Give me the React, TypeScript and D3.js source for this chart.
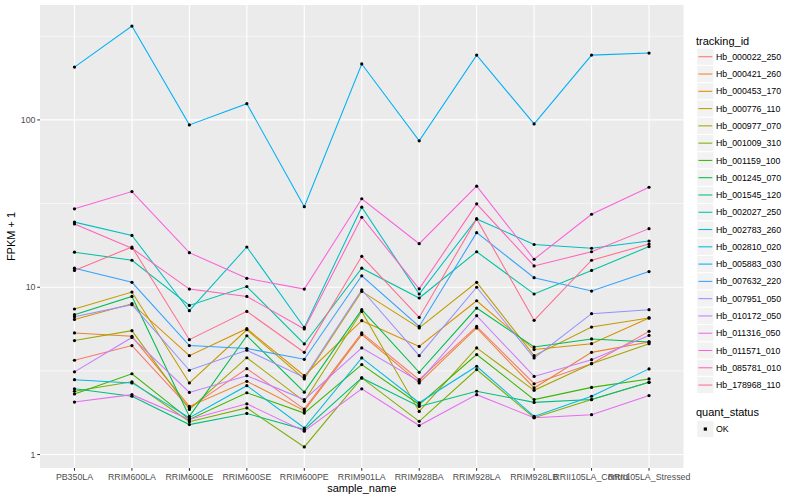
import React from 'react';
import * as d3 from 'd3';

// samples on the x axis
const samples = [
  'PB350LA', 'RRIM600LA', 'RRIM600LE', 'RRIM600SE', 'RRIM600PE', 'RRIM901LA',
  'RRIM928BA', 'RRIM928LA', 'RRIM928LB', 'RRII105LA_Control', 'RRII105LA_Stressed'
];

const trackingIds = [
  'Hb_000022_250', 'Hb_000421_260', 'Hb_000453_170', 'Hb_000776_110', 'Hb_000977_070',
  'Hb_001009_310', 'Hb_001159_100', 'Hb_001245_070', 'Hb_001545_120', 'Hb_002027_250',
  'Hb_002783_260', 'Hb_002810_020', 'Hb_005883_030', 'Hb_007632_220', 'Hb_007951_050',
  'Hb_010172_050', 'Hb_011316_050', 'Hb_011571_010', 'Hb_085781_010', 'Hb_178968_110'
];

// ggplot hue palette for 20 levels
const hueColors = [
  '#F8766D', '#EA8331', '#D89000', '#C09B00', '#A3A500', '#7CAE00', '#39B600',
  '#00BB4E', '#00BF7D', '#00C1A3', '#00BFC4', '#00BAE0', '#00B0F6', '#35A2FF',
  '#9590FF', '#C77CFF', '#E76BF3', '#FA62DB', '#FF62BC', '#FF6C91'
];

// FPKM + 1, one row per tracking id, one value per sample
const fpkm: number[][] = [
  [3.66, 4.48, 1.90, 3.26, 1.87, 5.33, 2.80, 5.83, 2.65, 3.49, 5.45],
  [5.33, 5.09, 1.94, 2.74, 1.83, 5.21, 2.68, 5.71, 2.50, 4.08, 4.71],
  [6.42, 7.97, 3.90, 5.65, 2.96, 6.31, 4.43, 8.30, 4.24, 4.60, 6.55],
  [7.41, 9.36, 2.68, 5.57, 2.83, 9.44, 5.71, 10.7, 3.90, 5.78, 6.55],
  [4.80, 5.50, 1.86, 3.79, 2.08, 7.17, 1.81, 4.34, 2.42, 3.49, 4.60],
  [2.39, 2.72, 1.57, 1.90, 1.11, 2.87, 1.58, 3.22, 1.66, 2.13, 2.70],
  [2.30, 3.04, 1.62, 2.34, 1.77, 3.45, 1.99, 3.96, 2.13, 2.52, 2.83],
  [6.85, 8.81, 1.69, 5.13, 2.36, 7.34, 3.10, 7.51, 4.39, 4.91, 4.71],
  [2.47, 2.23, 1.51, 1.76, 1.41, 2.87, 1.94, 2.39, 2.05, 2.13, 2.70],
  [16.2, 14.5, 7.79, 10.1, 4.58, 13.0, 8.62, 16.3, 9.11, 12.6, 17.5],
  [24.5, 20.4, 7.24, 17.4, 5.75, 30.1, 9.11, 25.6, 18.0, 17.1, 18.9],
  [2.80, 2.68, 1.66, 2.58, 1.44, 3.78, 2.04, 3.37, 1.69, 2.23, 3.25],
  [207, 364, 93.4, 125, 30.3, 216, 75, 244, 94.6, 244, 251],
  [13.0, 10.7, 4.48, 4.30, 3.71, 11.7, 5.83, 21.2, 11.4, 9.49, 12.4],
  [6.67, 7.87, 3.19, 4.20, 2.89, 9.66, 3.90, 10.0, 3.78, 6.95, 7.34],
  [3.12, 5.01, 2.35, 2.96, 2.13, 4.34, 2.74, 6.76, 2.93, 3.69, 5.15],
  [2.06, 2.28, 1.62, 2.01, 1.38, 2.47, 1.49, 2.28, 1.66, 1.73, 2.25],
  [29.4, 37.3, 16.1, 11.3, 9.75, 33.8, 18.2, 40.2, 14.7, 27.3, 39.6],
  [23.9, 17.1, 9.75, 8.81, 5.63, 26.2, 9.78, 31.5, 13.4, 16.3, 22.4],
  [12.6, 17.4, 4.86, 7.17, 4.08, 15.3, 6.60, 25.6, 6.34, 14.5, 18.1]
];

const yTicks = [1, 10, 100];
const yMinor = [Math.sqrt(10), Math.sqrt(1000), Math.sqrt(100000)];
const statusLevels = ['OK'];

const W = 800;
const H = 500;
const panel = { left: 40, right: 683.5, top: 5, bottom: 468 };
const font = '"Liberation Sans", Arial, Helvetica, sans-serif';

const App: React.FC = () => {
  const x = d3.scalePoint<string>()
    .domain(samples)
    .range([panel.left, panel.right])
    .padding(0.6);

  // log scale with ggplot's 5% expansion in log space
  const all = fpkm.flat();
  const lo = Math.log10(d3.min(all) as number);
  const hi = Math.log10(d3.max(all) as number);
  const pad = (hi - lo) * 0.05;
  const y = d3.scaleLog()
    .domain([Math.pow(10, lo - pad), Math.pow(10, hi + pad)])
    .range([panel.bottom, panel.top]);

  const line = d3.line<number>()
    .x((_, i) => x(samples[i]) as number)
    .y(d => y(d));

  const keyTop = 48.1;
  const keyStep = 17.28;
  const legendX = 696.7;

  return (
    <svg width={W} height={H} style={{ position: 'absolute', left: 0, top: 0, fontFamily: font }}>
      <rect x={0} y={0} width={W} height={H} fill="#ffffff" />
      <rect x={panel.left} y={panel.top} width={panel.right - panel.left}
        height={panel.bottom - panel.top} fill="#EBEBEB" />

      {/* grid */}
      {yMinor.map(v => (
        <line key={'mn' + v} x1={panel.left} x2={panel.right} y1={y(v)} y2={y(v)}
          stroke="#ffffff" strokeWidth={0.55} />
      ))}
      {yTicks.map(v => (
        <line key={'mj' + v} x1={panel.left} x2={panel.right} y1={y(v)} y2={y(v)}
          stroke="#ffffff" strokeWidth={1.1} />
      ))}
      {samples.map(s => (
        <line key={'vx' + s} x1={x(s)} x2={x(s)} y1={panel.top} y2={panel.bottom}
          stroke="#ffffff" strokeWidth={1.1} />
      ))}

      {/* series lines */}
      {fpkm.map((row, i) => (
        <path key={'ln' + i} d={line(row) as string} fill="none"
          stroke={hueColors[i]} strokeWidth={1.05} />
      ))}
      {/* points */}
      {fpkm.map((row, i) => row.map((v, j) => (
        <circle key={'pt' + i + '-' + j} cx={x(samples[j])} cy={y(v)} r={1.6} fill="#000000" />
      )))}

      {/* y axis */}
      {yTicks.map(v => (
        <g key={'yt' + v}>
          <line x1={panel.left - 2.75} x2={panel.left} y1={y(v)} y2={y(v)} stroke="#333333" strokeWidth={1} />
          <text x={panel.left - 4.5} y={y(v) + 3} textAnchor="end" fontSize={8.8} fill="#4D4D4D">{v}</text>
        </g>
      ))}
      {/* x axis */}
      {samples.map(s => (
        <g key={'xt' + s}>
          <line x1={x(s)} x2={x(s)} y1={panel.bottom} y2={panel.bottom + 2.75} stroke="#333333" strokeWidth={1} />
          <text x={x(s)} y={480} textAnchor="middle" fontSize={8.8} fill="#4D4D4D">{s}</text>
        </g>
      ))}

      <text x={(panel.left + panel.right) / 2} y={491.5} textAnchor="middle" fontSize={11} fill="#000000">sample_name</text>
      <text x={15} y={(panel.top + panel.bottom) / 2} textAnchor="middle" fontSize={11} fill="#000000"
        transform={`rotate(-90, 15, ${(panel.top + panel.bottom) / 2})`}>FPKM + 1</text>

      {/* legend: tracking_id */}
      <text x={legendX - 0.7} y={45} fontSize={11} fill="#000000">tracking_id</text>
      {trackingIds.map((id, i) => {
        const top = keyTop + i * keyStep;
        return (
          <g key={'lg' + id}>
            <rect x={legendX} y={top} width={keyStep} height={keyStep} fill="#F2F2F2" stroke="#ffffff" strokeWidth={1} />
            <line x1={legendX + 1.7} x2={legendX + keyStep - 1.7} y1={top + keyStep / 2} y2={top + keyStep / 2}
              stroke={hueColors[i]} strokeWidth={1.05} />
            <text x={716} y={top + keyStep / 2 + 3.1} fontSize={8.8} fill="#000000">{id}</text>
          </g>
        );
      })}

      {/* legend: quant_status */}
      <text x={legendX - 0.7} y={416} fontSize={11} fill="#000000">quant_status</text>
      {statusLevels.map((s, i) => {
        const top = 420.4 + i * keyStep;
        return (
          <g key={'qs' + s}>
            <rect x={legendX} y={top} width={keyStep} height={keyStep} fill="#F2F2F2" stroke="#ffffff" strokeWidth={1} />
            <rect x={legendX + keyStep / 2 - 1.6} y={top + keyStep / 2 - 1.6} width={3.2} height={3.2} fill="#000000" />
            <text x={716} y={top + keyStep / 2 + 3.1} fontSize={8.8} fill="#000000">{s}</text>
          </g>
        );
      })}
    </svg>
  );
};

export default App;
